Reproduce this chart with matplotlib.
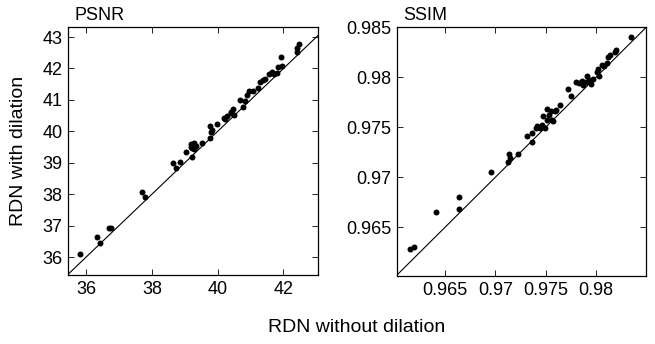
import numpy as np
import matplotlib
matplotlib.use("Agg")
import matplotlib.pyplot as plt

plt.rcParams['font.family'] = ['Liberation Sans', 'DejaVu Sans']

# PSNR: RDN without dilation (x) vs with dilation (y)
psnr_without = [35.81, 36.33, 36.42, 36.69, 36.77, 37.71, 37.79, 38.63, 38.72, 38.84,
                39.03, 39.23, 39.18, 39.20, 39.28, 39.33, 39.23, 39.28, 39.52, 39.77,
                39.81, 39.82, 39.76, 39.99, 40.19, 40.21, 40.29, 40.39, 40.42, 40.46,
                40.49, 40.68, 40.78, 40.82, 40.88, 40.95, 41.08, 41.23, 41.30, 41.37,
                41.45, 41.55, 41.64, 41.71, 41.79, 41.84, 41.91, 41.96, 42.41, 42.41,
                42.48]
psnr_with = [36.10, 36.64, 36.44, 36.93, 36.93, 38.08, 37.90, 38.98, 38.82, 39.04,
             39.34, 39.18, 39.51, 39.59, 39.62, 39.53, 39.48, 39.43, 39.62, 39.80,
             39.97, 40.04, 40.18, 40.23, 40.44, 40.40, 40.49, 40.57, 40.62, 40.71,
             40.52, 41.00, 40.76, 40.96, 41.15, 41.28, 41.29, 41.39, 41.58, 41.63,
             41.66, 41.81, 41.88, 41.84, 41.86, 42.05, 42.35, 42.09, 42.53, 42.64,
             42.77]

# SSIM
ssim_without = [0.96149, 0.96188, 0.96413, 0.96636, 0.96636, 0.96958, 0.97134, 0.97144,
                0.97127, 0.97224, 0.97369, 0.97313, 0.97363, 0.97406, 0.97419, 0.97446,
                0.97463, 0.97496, 0.97479, 0.97513, 0.97539, 0.97572, 0.97552, 0.97595,
                0.97512, 0.97562, 0.97605, 0.97645, 0.97728, 0.97752, 0.97804, 0.97837,
                0.97861, 0.97877, 0.97904, 0.97917, 0.97937, 0.97951, 0.97977, 0.98010,
                0.98020, 0.98036, 0.98060, 0.98083, 0.98110, 0.98126, 0.98143, 0.98192,
                0.98202, 0.98349]
ssim_with = [0.96282, 0.96305, 0.96657, 0.96804, 0.96684, 0.97055, 0.97229, 0.97192,
             0.97152, 0.97229, 0.97353, 0.97416, 0.97443, 0.97493, 0.97517, 0.97493,
             0.97526, 0.97493, 0.97617, 0.97577, 0.97627, 0.97560, 0.97660, 0.97667,
             0.97684, 0.97570, 0.97677, 0.97727, 0.97885, 0.97817, 0.97951, 0.97945,
             0.97961, 0.97928, 0.97951, 0.98018, 0.97971, 0.97938, 0.97985, 0.98051,
             0.98085, 0.98018, 0.98129, 0.98119, 0.98146, 0.98206, 0.98229, 0.98252,
             0.98272, 0.98406]

psnr_xticks = [36, 38, 40, 42]
psnr_yticks = [36, 37, 38, 39, 40, 41, 42, 43]
ssim_xticks = [0.965, 0.97, 0.975, 0.98]
ssim_yticks = [0.965, 0.97, 0.975, 0.98, 0.985]

fig = plt.figure(figsize=(6.55, 3.44), dpi=100)
ax1 = fig.add_axes([68/655, 1-275/344, 250/655, 248/344])
ax2 = fig.add_axes([397/655, 1-276/344, 249/655, 249/344])


def style(ax, title, xl, yl, xt, yt):
    ax.plot(xl, xl, color='black', lw=0.8)
    ax.set_xlim(xl)
    ax.set_ylim(yl)
    ax.set_xticks(xt)
    ax.set_yticks(yt)
    ax.set_xticklabels(['%g' % v for v in xt])
    ax.set_yticklabels(['%g' % v for v in yt])
    ax.tick_params(direction='in', top=True, right=True, length=4, width=0.6,
                   labelsize=13, pad=4)
    for s in ax.spines.values():
        s.set_linewidth(0.9)
    ax.text(0.025, 1.014, title, transform=ax.transAxes, fontsize=13,
            ha='left', va='bottom')


ax1.plot(psnr_without, psnr_with, 'o', color='black', ms=4.3, mec='none')
style(ax1, 'PSNR', (35.45, 43.05), (35.43, 43.32), psnr_xticks, psnr_yticks)

ax2.plot(ssim_without, ssim_with, 'o', color='black', ms=4.3, mec='none')
style(ax2, 'SSIM', (0.96022, 0.985), (0.96012, 0.98505), ssim_xticks, ssim_yticks)

fig.text(19/655, 1-151/344, 'RDN with dilation', rotation=90, fontsize=14,
         ha='center', va='center')
fig.text(357/655, 1-327/344, 'RDN without dilation', fontsize=14,
         ha='center', va='center')

fig.savefig('out.png', dpi=100)
